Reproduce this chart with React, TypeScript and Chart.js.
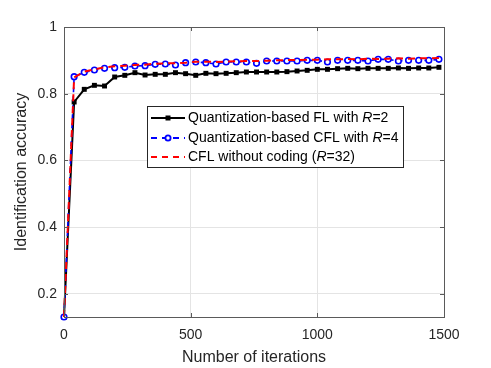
import React, { useEffect, useRef } from "react";
import { Chart, registerables } from "chart.js";

Chart.register(...registerables);

const iterations = [
  0, 40, 80, 120, 160, 200, 240, 280, 320, 360, 400, 440, 480, 520, 560, 600, 640, 680, 720,
  760, 800, 840, 880, 920, 960, 1000, 1040, 1080, 1120, 1160, 1200, 1240, 1280, 1320, 1360,
  1400, 1440, 1480,
];

const flR2 = [
  0.13, 0.775, 0.813, 0.825, 0.823, 0.85, 0.855, 0.863, 0.856, 0.858, 0.858, 0.863, 0.86,
  0.855, 0.861, 0.86, 0.861, 0.863, 0.865, 0.865, 0.865, 0.865, 0.866, 0.868, 0.87, 0.873,
  0.873, 0.875, 0.876, 0.875, 0.876, 0.876, 0.876, 0.877, 0.876, 0.877, 0.877, 0.879,
];

const cflR4 = [
  0.13, 0.851, 0.864, 0.871, 0.876, 0.878, 0.879, 0.883, 0.884, 0.888, 0.889, 0.886, 0.893,
  0.895, 0.893, 0.889, 0.895, 0.895, 0.895, 0.891, 0.898, 0.898, 0.898, 0.898, 0.9, 0.9,
  0.895, 0.9, 0.9, 0.9, 0.898, 0.903, 0.903, 0.898, 0.9, 0.9, 0.9, 0.903,
];

const cflNoCoding = [
  0.13, 0.849, 0.866, 0.873, 0.879, 0.882, 0.884, 0.886, 0.887, 0.89, 0.891, 0.891, 0.893,
  0.896, 0.896, 0.895, 0.896, 0.897, 0.898, 0.898, 0.899, 0.9, 0.901, 0.901, 0.902, 0.902,
  0.903, 0.903, 0.904, 0.903, 0.905, 0.904, 0.905, 0.906, 0.905, 0.906, 0.906, 0.907,
];

const xTicks = [0, 500, 1000, 1500];
const yTicks = [0.2, 0.4, 0.6, 0.8, 1];

const legendItems = [
  { pre: "Quantization-based FL with ", it: "R", post: "=2", kind: "black" },
  { pre: "Quantization-based CFL with ", it: "R", post: "=4", kind: "blue" },
  { pre: "CFL without coding (", it: "R", post: "=32)", kind: "red" },
];

const FONT = '"Liberation Sans", Arial, Helvetica, sans-serif';

const framePlugin = {
  id: "frameAndLegend",
  afterDraw(chart: any) {
    const ctx = chart.ctx;
    const { left, right, top, bottom } = chart.chartArea;
    const xs = chart.scales.x;
    const ys = chart.scales.y;
    ctx.save();
    ctx.strokeStyle = "#5a5a5a";
    ctx.lineWidth = 1;
    ctx.strokeRect(Math.round(left) + 0.5, Math.round(top) + 0.5, Math.round(right - left), Math.round(bottom - top));
    const tl = 4;
    ctx.beginPath();
    xTicks.forEach((v) => {
      const px = Math.round(xs.getPixelForValue(v)) + 0.5;
      ctx.moveTo(px, bottom);
      ctx.lineTo(px, bottom - tl);
      ctx.moveTo(px, top);
      ctx.lineTo(px, top + tl);
    });
    yTicks.forEach((v) => {
      const py = Math.round(ys.getPixelForValue(v)) + 0.5;
      ctx.moveTo(left, py);
      ctx.lineTo(left + tl, py);
      ctx.moveTo(right, py);
      ctx.lineTo(right - tl, py);
    });
    ctx.stroke();

    const lx = 147.5, ly = 106.5, lw = 256, lh = 61;
    ctx.fillStyle = "#ffffff";
    ctx.fillRect(lx, ly, lw, lh);
    ctx.strokeStyle = "#262626";
    ctx.lineWidth = 1;
    ctx.strokeRect(lx, ly, lw, lh);
    const rowsY = [118, 138, 157];
    legendItems.forEach((item, i) => {
      const y = rowsY[i];
      const x0 = 151, x1 = 185, xm = 168;
      ctx.lineWidth = 2;
      if (item.kind === "black") {
        ctx.setLineDash([]);
        ctx.strokeStyle = "#000000";
        ctx.beginPath();
        ctx.moveTo(x0, y);
        ctx.lineTo(x1, y);
        ctx.stroke();
        ctx.fillStyle = "#000000";
        ctx.fillRect(xm - 2.5, y - 2.5, 5, 5);
      } else if (item.kind === "blue") {
        ctx.setLineDash([6, 5]);
        ctx.strokeStyle = "#0000ff";
        ctx.beginPath();
        ctx.moveTo(x0, y);
        ctx.lineTo(x1, y);
        ctx.stroke();
        ctx.setLineDash([]);
        ctx.fillStyle = "#ffffff";
        ctx.beginPath();
        ctx.arc(xm, y, 2.6, 0, Math.PI * 2);
        ctx.fill();
        ctx.lineWidth = 1.8;
        ctx.stroke();
      } else {
        ctx.setLineDash([6, 5]);
        ctx.strokeStyle = "#ff0000";
        ctx.beginPath();
        ctx.moveTo(x0, y);
        ctx.lineTo(x1, y);
        ctx.stroke();
        ctx.setLineDash([]);
      }
      ctx.fillStyle = "#000000";
      ctx.textBaseline = "middle";
      ctx.textAlign = "left";
      let tx = 188;
      ctx.font = `14px ${FONT}`;
      ctx.fillText(item.pre, tx, y);
      tx += ctx.measureText(item.pre).width;
      ctx.font = `italic 14px ${FONT}`;
      ctx.fillText(item.it, tx, y);
      tx += ctx.measureText(item.it).width;
      ctx.font = `14px ${FONT}`;
      ctx.fillText(item.post, tx, y);
    });
    ctx.restore();
  },
};

export default function App() {
  const ref = useRef<HTMLCanvasElement | null>(null);

  useEffect(() => {
    if (!ref.current) return;
    const mk = (arr: number[]) => iterations.map((x, i) => ({ x, y: arr[i] }));
    const chart = new Chart(ref.current, {
      type: "line",
      data: {
        datasets: [
          {
            label: "CFL without coding (R=32)",
            data: mk(cflNoCoding),
            borderColor: "#ff0000",
            borderWidth: 2,
            borderDash: [7, 5],
            pointRadius: 0,
            fill: false,
            tension: 0,
            clip: false,
            order: 0,
          },
          {
            label: "Quantization-based CFL with R=4",
            data: mk(cflR4),
            borderColor: "#0000ff",
            borderWidth: 1.6,
            borderDash: [5, 4],
            pointStyle: "circle",
            pointRadius: 2.8,
            pointBorderWidth: 1.6,
            pointBackgroundColor: "#ffffff",
            pointBorderColor: "#0000ff",
            fill: false,
            tension: 0,
            clip: false,
            order: 1,
          },
          {
            label: "Quantization-based FL with R=2",
            data: mk(flR2),
            borderColor: "#000000",
            borderWidth: 2,
            pointStyle: "rect",
            pointRadius: 3.5,
            pointBorderWidth: 0,
            pointBackgroundColor: "#000000",
            pointBorderColor: "#000000",
            fill: false,
            tension: 0,
            clip: false,
            order: 2,
          },
        ],
      },
      options: {
        animation: false,
        responsive: false,
        maintainAspectRatio: false,
        devicePixelRatio: 1,
        layout: { padding: { left: 0, right: 47, top: 27, bottom: 0 } },
        plugins: { legend: { display: false }, tooltip: { enabled: false } },
        scales: {
          x: {
            type: "linear",
            min: 0,
            max: 1500,
            afterBuildTicks: (s: any) => {
              s.ticks = xTicks.map((v) => ({ value: v }));
            },
            afterFit: (s: any) => {
              s.height = 51;
            },
            grid: { color: "#e4e4e4", drawTicks: false },
            border: { display: false },
            ticks: {
              padding: 10,
              color: "#262626",
              font: { family: FONT, size: 14 },
              maxRotation: 0,
              callback: (v: any) => String(v),
            },
            title: {
              display: true,
              text: "Number of iterations",
              color: "#262626",
              font: { family: FONT, size: 16 },
              padding: { top: 0, bottom: 1 },
            },
          },
          y: {
            type: "linear",
            min: 0.13,
            max: 1,
            afterBuildTicks: (s: any) => {
              s.ticks = yTicks.map((v) => ({ value: v }));
            },
            afterFit: (s: any) => {
              s.width = 64;
            },
            grid: { color: "#e4e4e4", drawTicks: false },
            border: { display: false },
            ticks: {
              padding: 7,
              color: "#262626",
              font: { family: FONT, size: 14 },
              callback: (v: any) => String(v),
            },
            title: {
              display: true,
              text: "Identification accuracy",
              color: "#262626",
              font: { family: FONT, size: 16 },
              padding: { top: 12, bottom: 0 },
            },
          },
        },
      },
      plugins: [framePlugin],
    });
    return () => chart.destroy();
  }, []);

  return (
    <div style={{ position: "fixed", left: 0, top: 0, width: 491, height: 368, background: "#fff" }}>
      <canvas ref={ref} width={491} height={368} style={{ width: 491, height: 368, display: "block" }} />
    </div>
  );
}
